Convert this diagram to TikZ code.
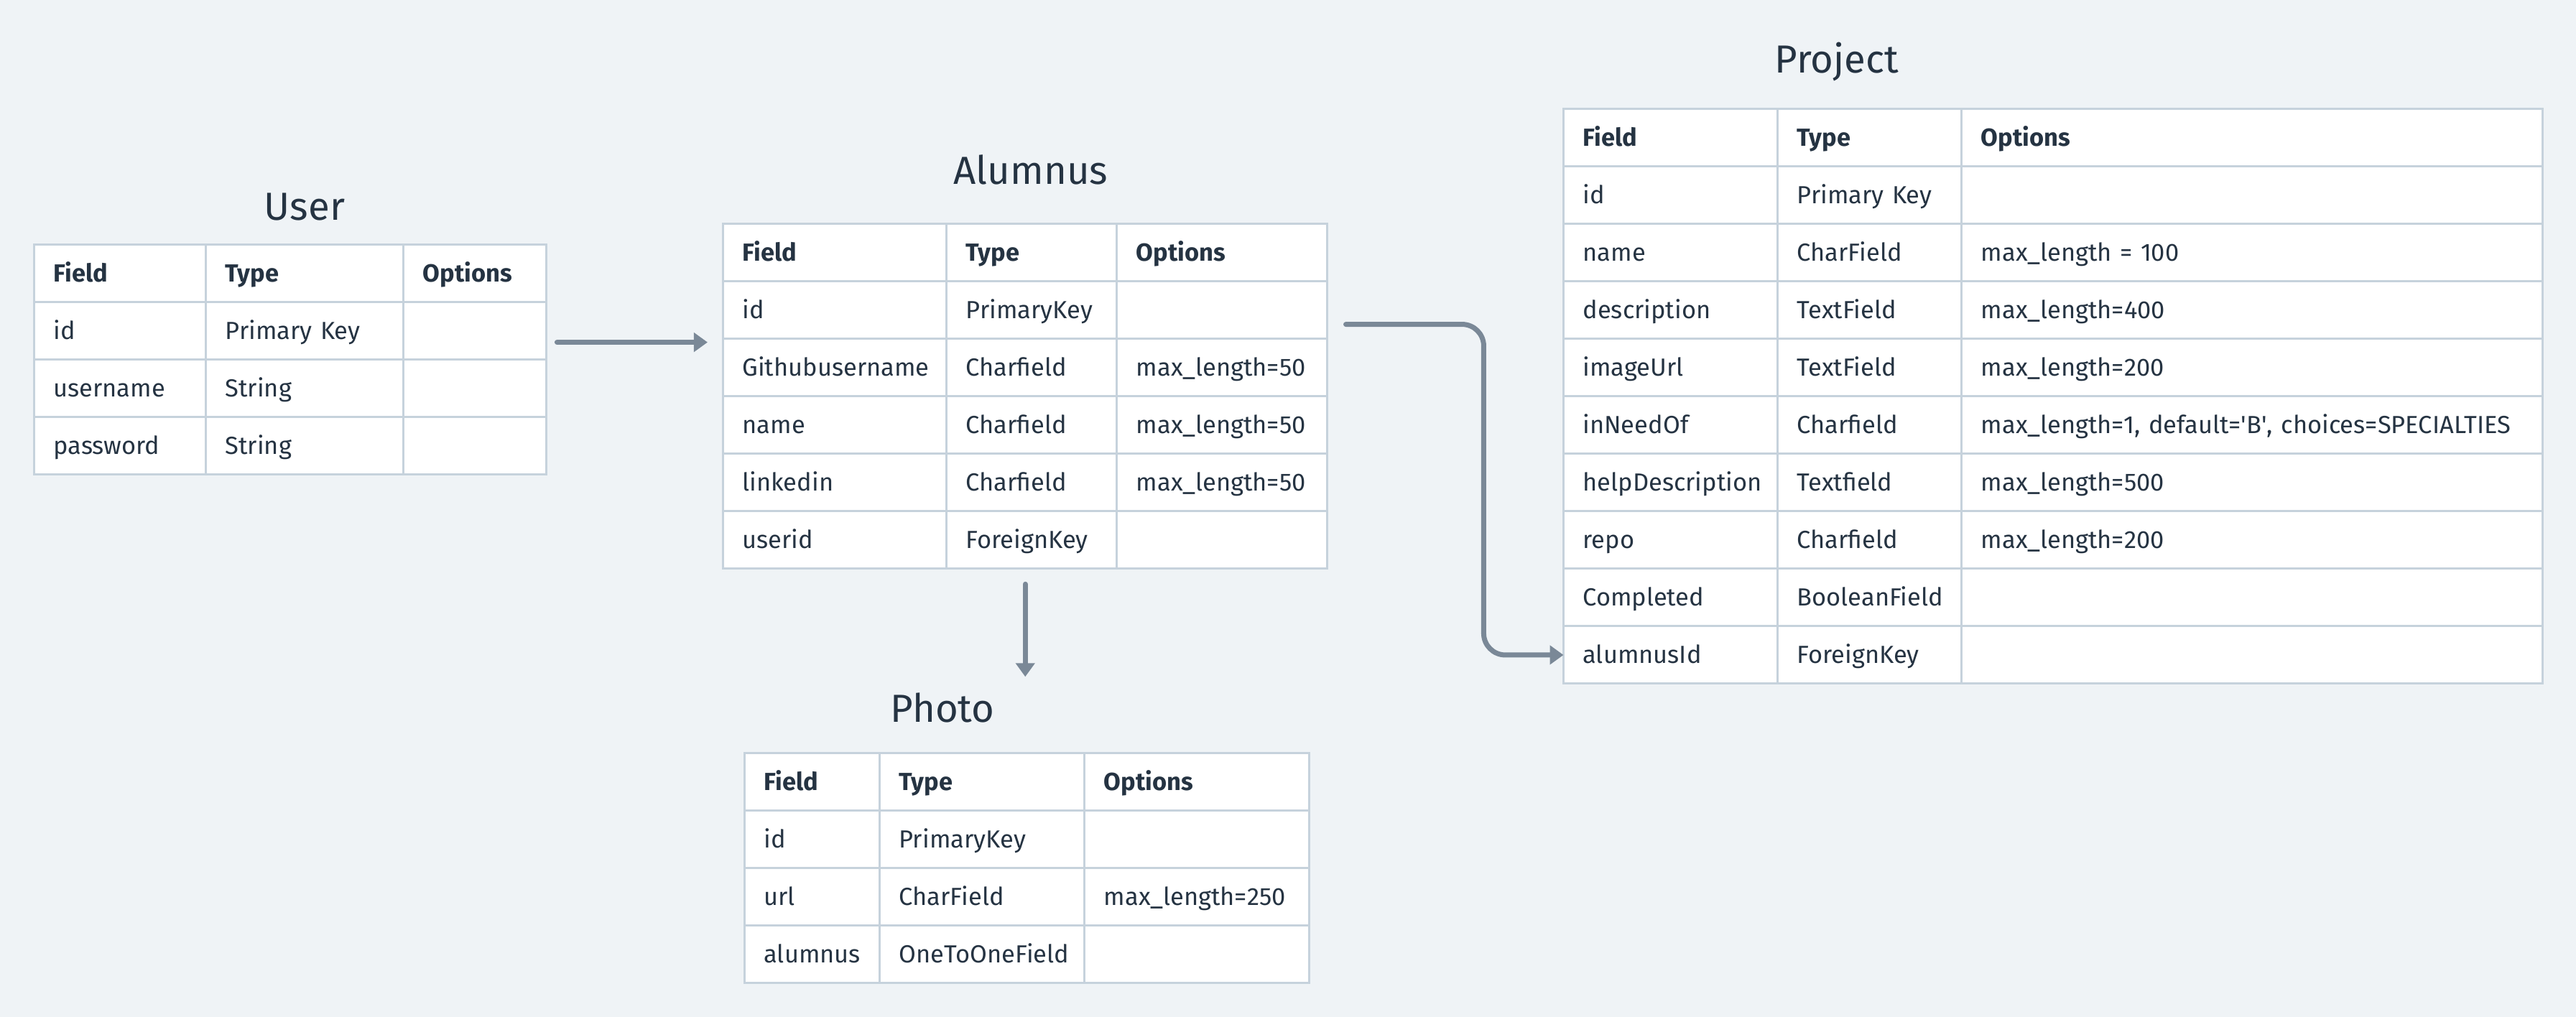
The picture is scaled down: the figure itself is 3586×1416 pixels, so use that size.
\documentclass[tikz,border=0pt]{standalone}
\usepackage{fontspec}
\setmainfont{Fira Sans}
\usetikzlibrary{matrix,arrows.meta}
\definecolor{PageBg}{HTML}{EFF3F6}
\definecolor{GridLine}{HTML}{C6D2DC}
\definecolor{InkDark}{HTML}{253342}
\definecolor{LinkGray}{HTML}{7A8897}

\tikzset{
  dbcell/.style={draw=GridLine, line width=0.03cm, fill=white, text=InkDark, font=\fontsize{9.8pt}{12pt}\selectfont, anchor=center, inner xsep=0.27cm, inner ysep=0pt, outer sep=0pt, minimum height=0.8cm, text height=6.75pt, text depth=0pt, align=left},
  dbtable/.style={matrix of nodes, nodes in empty cells, inner sep=0pt, outer sep=0pt, column sep=-0.03cm, row sep=-0.03cm, anchor=north west, nodes={dbcell}, row 1/.style={nodes={font=\fontsize{9.8pt}{12pt}\selectfont\bfseries}}},
  tabletitle/.style={text=InkDark, font=\fontsize{15.5pt}{18pt}\selectfont, anchor=base},
  link/.style={draw=LinkGray, line width=0.07cm, line cap=round, -{Triangle[length=0.19cm, width=0.26cm]}}
}

\begin{document}
\begin{tikzpicture}[x=0.01cm, y=-0.01cm]
            % page, in pixel units of the drawing
            \useasboundingbox (0,0) rectangle (3586,1416);
            \fill[PageBg] (0,0) rectangle (3586,1416);

            % the four models
            \node[tabletitle] (user-title) at (424,307) {User};
            \matrix (user) [dbtable, column 1/.style={nodes={text width=1.85cm}}, column 2/.style={nodes={text width=2.21cm}}, column 3/.style={nodes={text width=1.45cm}}] at (46,339) {
              Field & Type & Options \\
              id & Primary Key & \\
              username & String & \\
              password & String & \\
            };

            \node[tabletitle] (alumnus-title) at (1435,257) {Alumnus};
            \matrix (alumnus) [dbtable, column 1/.style={nodes={text width=2.57cm}}, column 2/.style={nodes={text width=1.83cm}}, column 3/.style={nodes={text width=2.39cm}}] at (1005,310) {
              Field & Type & Options \\
              id & PrimaryKey & \\
              Githubusername & Charfield & max\_length=50 \\
              name & Charfield & max\_length=50 \\
              linkedin & Charfield & max\_length=50 \\
              userid & ForeignKey & \\
            };

            \node[tabletitle] (photo-title) at (1312,1006) {Photo};
            \matrix (photo) [dbtable, column 1/.style={nodes={text width=1.34cm}}, column 2/.style={nodes={text width=2.31cm}}, column 3/.style={nodes={text width=2.59cm}}] at (1035,1047) {
              Field & Type & Options \\
              id & PrimaryKey & \\
              url & CharField & max\_length=250 \\
              alumnus & OneToOneField & \\
            };

            \node[tabletitle] (project-title) at (2557,102) {Project};
            \matrix (project) [dbtable, column 1/.style={nodes={text width=2.44cm}}, column 2/.style={nodes={text width=2.02cm}}, column 3/.style={nodes={text width=7.54cm}}] at (2175,150) {
              Field & Type & Options \\
              id & Primary Key & \\
              name & CharField & max\_length = 100 \\
              description & TextField & max\_length=400 \\
              imageUrl & TextField & max\_length=200 \\
              inNeedOf & Charfield & \mbox{max\_length=1, default=\textquotesingle B\textquotesingle, choices=SPECIALTIES} \\
              helpDescription & Textfield & max\_length=500 \\
              repo & Charfield & max\_length=200 \\
              Completed & BooleanField & \\
              alumnusId & ForeignKey & \\
            };

            % relations
            \coordinate (user-out) at ([shift={(0.13cm,0.24cm)}]user.east);
            \path (alumnus.south) ++(0,149) coordinate (photo-in);
            \draw[link, shorten >=0.2cm] (user-out) -- (alumnus.west |- user-out);
            \draw[link] ([yshift=-0.2cm]alumnus.south) -- (photo-in);
            \draw[link, rounded corners=0.3cm] ([shift={(0.24cm,1cm)}]alumnus.east) -| ([xshift=-1.11cm]project-10-1.west) -- (project-10-1.west);
        \end{tikzpicture}
\end{document}
